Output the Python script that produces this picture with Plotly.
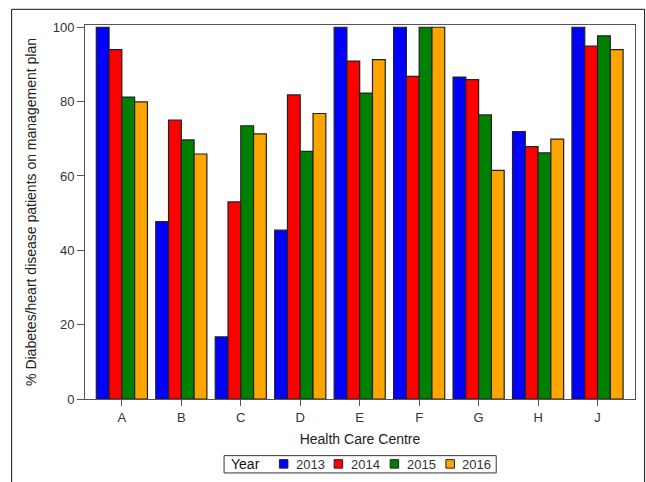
import plotly.graph_objects as go

centres = ["A", "B", "C", "D", "E", "F", "G", "H", "J"]
years = ["2013", "2014", "2015", "2016"]
v2013 = [100, 47.7, 16.7, 45.4, 100, 100, 86.6, 71.9, 100]
v2014 = [94, 75, 53, 81.8, 90.9, 86.8, 85.9, 67.9, 94.9]
v2015 = [81.2, 69.7, 73.5, 66.6, 82.3, 100, 76.4, 66.2, 97.7]
v2016 = [79.9, 65.9, 71.3, 76.8, 91.3, 100, 61.5, 69.9, 94]
colors = ["#0000FF", "#FF0000", "#008000", "#FFA500"]
series = [v2013, v2014, v2015, v2016]

FONT = "Liberation Sans, Arial, sans-serif"

fig = go.Figure()
for yr, vals, c in zip(years, series, colors):
    fig.add_trace(go.Bar(
        x=centres, y=vals, name=yr, showlegend=False,
        marker=dict(color=c, line=dict(color="#222", width=1.2)),
    ))

W, H = 646, 482
L, R, T, B = 85, 11.3, 25, 82.7
pw = W - L - R
ph = H - T - B

def px2x(px):
    return (px - L) / pw

def py2y(py):
    return (H - B - py) / ph

shapes = [dict(
    type="rect", xref="paper", yref="paper",
    x0=px2x(11.7), x1=px2x(644.3), y0=py2y(495), y1=py2y(9.3),
    line=dict(color="#111", width=1), fillcolor="rgba(0,0,0,0)", layer="below",
)]
# legend box
shapes.append(dict(
    type="rect", xref="paper", yref="paper",
    x0=px2x(224), x1=px2x(496), y0=py2y(473.3), y1=py2y(456),
    line=dict(color="#333", width=1), fillcolor="white",
))
annotations = [dict(
    text="Year", xref="paper", yref="paper", x=px2x(229), y=py2y(464.8),
    xanchor="left", yanchor="middle", showarrow=False,
    font=dict(size=14, color="#111"),
)]
sq_left = [279.3, 334, 390, 445.7]
for yr, c, sx in zip(years, colors, sq_left):
    shapes.append(dict(
        type="rect", xref="paper", yref="paper",
        x0=px2x(sx), x1=px2x(sx + 8.5), y0=py2y(468.5), y1=py2y(460),
        line=dict(color="#222", width=1), fillcolor=c,
    ))
    annotations.append(dict(
        text=yr, xref="paper", yref="paper", x=px2x(sx + 14.5), y=py2y(464.8),
        xanchor="left", yanchor="middle", showarrow=False,
        font=dict(size=13, color="#333"),
    ))

fig.update_layout(
    width=W, height=H,
    margin=dict(l=L, r=R, t=T, b=B, autoexpand=False),
    paper_bgcolor="white", plot_bgcolor="white",
    font=dict(family=FONT, size=13, color="#333"),
    barmode="group", bargap=0.14, bargroupgap=0,
    showlegend=False,
    xaxis=dict(
        range=[-0.62, 8.63], automargin=False,
        showline=True, linecolor="#555", linewidth=1, mirror=True,
        ticks="outside", ticklen=6, tickcolor="#555",
        tickfont=dict(size=13, color="#333"),
        title=dict(text="Health Care Centre", font=dict(size=14, color="#222"), standoff=10),
        showgrid=False, zeroline=False,
    ),
    yaxis=dict(
        range=[0, 100.6], automargin=False,
        tickvals=[0, 20, 40, 60, 80, 100],
        showline=True, linecolor="#555", linewidth=1, mirror=True,
        ticks="outside", ticklen=7, tickcolor="#555",
        tickfont=dict(size=13, color="#333"),
        title=dict(text="% Diabetes/heart disease patients on management plan",
                   font=dict(size=14, color="#222"), standoff=12),
        showgrid=False, zeroline=False,
    ),
    shapes=shapes,
    annotations=annotations,
)

fig.write_html(
    "out.html",
    config={"displayModeBar": False},
    post_script="document.body.style.margin='0';document.body.style.overflow='hidden';",
)
